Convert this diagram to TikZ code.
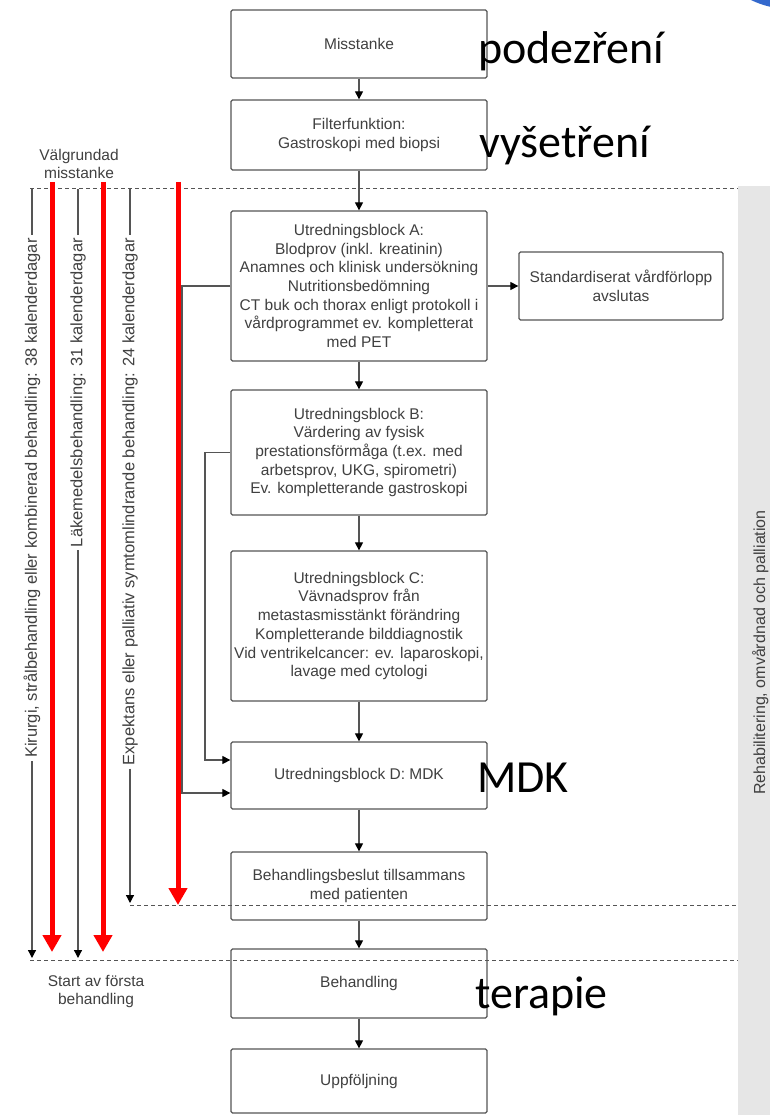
\documentclass[tikz,border=0pt]{standalone}
\usepackage{fontspec}
\setmainfont{Liberation Sans}
\newfontfamily\annfont{Carlito}
\usetikzlibrary{arrows.meta}
\definecolor{boxline}{HTML}{555555}
\definecolor{txt}{HTML}{404040}
\definecolor{dashc}{HTML}{555555}
\definecolor{band}{HTML}{E6E6E6}
\definecolor{blueblob}{RGB}{52,105,205}
\definecolor{redarrow}{RGB}{255,0,0}
\begin{document}
\begin{tikzpicture}[x=1pt,y=-1pt,
  box/.style={draw=boxline, line width=1.3pt, fill=white, rounded corners=1.5pt, minimum width=256pt, inner sep=0pt, align=center, text=txt, font=\fontsize{15.5}{18.7}\selectfont},
  conn/.style={draw=boxline, line width=1.2pt, -{Triangle[length=8pt,width=8pt,color=black]}},
  plain/.style={draw=boxline, line width=1.2pt},
  sep/.style={draw=dashc, line width=1pt, dash pattern=on 4pt off 3pt},
  lbl/.style={text=txt, align=center, inner sep=0pt, font=\fontsize{15.5}{18}\selectfont},
  vlbl/.style={rotate=90, anchor=east, fill=white, inner sep=3pt, text=txt, font=\fontsize{16.5}{18}\selectfont},
  redarr/.style={draw=redarrow, line width=5pt, -{Triangle[length=17pt,width=18pt]}},
  ann/.style={font=\annfont\fontsize{46}{50}\selectfont, anchor=base west, inner sep=0pt},
]
\useasboundingbox (0,0) rectangle (770,1115);
% right band and blue blob
\fill[band] (738,186) rectangle (770,1115);
\node[rotate=90, anchor=base west, inner sep=0pt, text=txt, font=\fontsize{16}{18}\selectfont] (rehab) at (765,795) {Rehabilitering, omvårdnad och palliation};
\fill[blueblob] (790,-80) circle (89);

% boxes
\node[box, minimum height=68pt] (mis) at (359,44) {Misstanke};
\node[box, minimum height=70pt] (fil) at (359,135) {Filterfunktion:\\Gastroskopi med biopsi};
\node[box, minimum height=150pt] (A) at (359,286) {Utredningsblock A:\\Blodprov (inkl. kreatinin)\\Anamnes och klinisk undersökning\\Nutritionsbedömning\\CT buk och thorax enligt protokoll i\\vårdprogrammet ev. kompletterat\\med PET};
\node[box, minimum width=204pt, minimum height=68pt] (std) at (621,286) {Standardiserat vårdförlopp\\avslutas};
\node[box, minimum height=125pt] (B) at (359,452.5) {Utredningsblock B:\\Värdering av fysisk\\prestationsförmåga (t.ex. med\\arbetsprov, UKG, spirometri)\\Ev. kompletterande gastroskopi};
\node[box, minimum height=150pt] (C) at (359,626) {Utredningsblock C:\\Vävnadsprov från\\metastasmisstänkt förändring\\Kompletterande bilddiagnostik\\Vid ventrikelcancer: ev. laparoskopi,\\lavage med cytologi};
\node[box, minimum height=67pt] (D) at (359,775.5) {Utredningsblock D: MDK};
\node[box, minimum height=68pt] (bes) at (359,886) {Behandlingsbeslut tillsammans\\med patienten};
\node[box, minimum height=69pt] (beh) at (359,983.5) {Behandling};
\node[box, minimum height=64pt] (upp) at (359,1081) {Uppföljning};

% main connectors
\draw[conn] (mis) -- (fil);
\draw[conn] (fil) -- (A);
\draw[conn] (A) -- (B);
\draw[conn] (B) -- (C);
\draw[conn] (C) -- (D);
\draw[conn] (D) -- (bes);
\draw[conn] (bes) -- (beh);
\draw[conn] (beh) -- (upp);
\draw[conn] (A.east) -- (std.west);
\draw[conn] (A.west) -- (182,286) -- (182,793) -- (D.west |- 0,793);
\draw[conn] (B.west) -| (205,760) -- (D.west |- 0,760);

% left labels
\node[lbl] (valg) at (79,164) {Välgrundad\\misstanke};
\node[lbl] (start) at (96,991) {Start av första\\behandling};

% time lines
\coordinate (t1) at (32,189); \coordinate (b1) at (32,958);
\coordinate (t2) at (78,189); \coordinate (b2) at (78,958);
\coordinate (t3) at (130,189); \coordinate (b3) at (130,903);
\node[vlbl] (l1) at (32,235) {Kirurgi, strålbehandling eller kombinerad behandling: 38 kalenderdagar};
\node[vlbl] (l2) at (78,235) {Läkemedelsbehandling: 31 kalenderdagar};
\node[vlbl] (l3) at (130,235) {Expektans eller palliativ symtomlindrande behandling: 24 kalenderdagar};
\draw[plain] (t1) -- (l1.east);
\draw[plain] (t2) -- (l2.east);
\draw[plain] (t3) -- (l3.east);
\draw[conn] (l1.west) -- (b1);
\draw[conn] (l2.west) -- (b2);
\draw[conn] (l3.west) -- (b3);

% dashed separators
\coordinate (s1a) at (30,189); \coordinate (s1b) at (738,189);
\coordinate (s2a) at (130,905); \coordinate (s2b) at (738,905);
\coordinate (s3a) at (30,960); \coordinate (s3b) at (738,960);
\draw[sep] (s1a) -- (s1b);
\draw[sep] (s2a) -- (s2b);
\draw[sep] (s3a) -- (s3b);

% red arrows
\coordinate (r1t) at (52,182); \coordinate (r1b) at (52,952);
\coordinate (r2t) at (103,182); \coordinate (r2b) at (103,952);
\coordinate (r3t) at (178,182); \coordinate (r3b) at (178,905);
\draw[redarr] (r1t) -- (r1b);
\draw[redarr] (r2t) -- (r2b);
\draw[redarr] (r3t) -- (r3b);

% annotations
\node[ann] (pz) at (478,64) {podezření};
\node[ann] (vy) at (479,158) {vyšetření};
\node[ann] (md) at (477,792) {MDK};
\node[ann] (te) at (475,1008) {terapie};
\end{tikzpicture}
\end{document}
